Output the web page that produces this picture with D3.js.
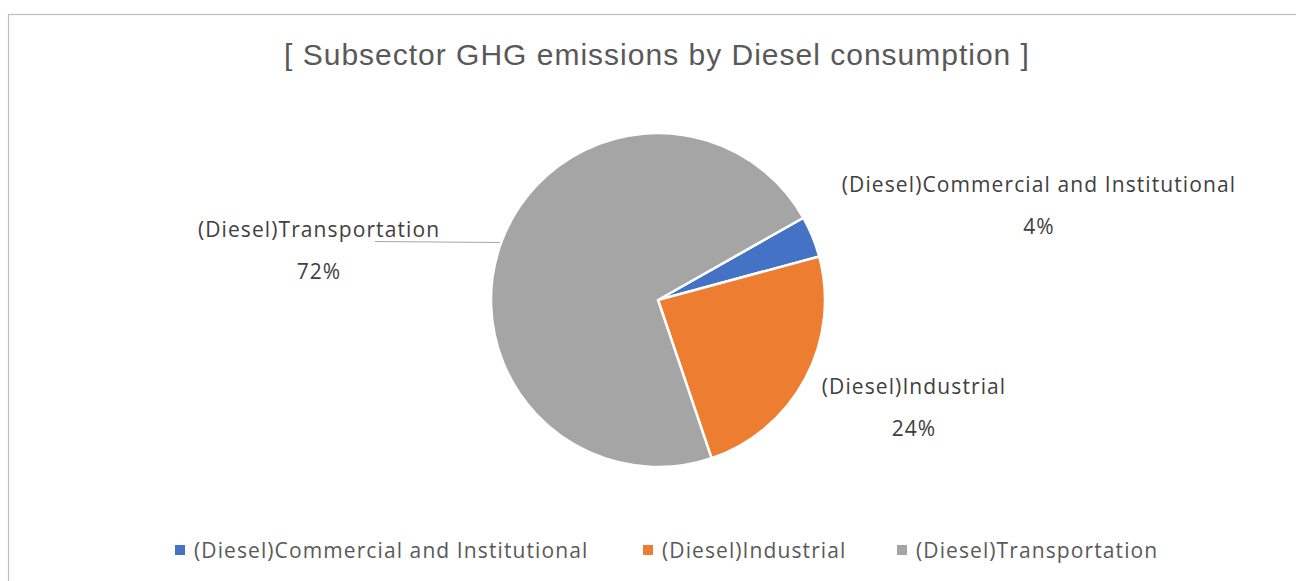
<!DOCTYPE html>
<html>
<head>
<meta charset="utf-8">
<script src="https://cdn.jsdelivr.net/npm/d3@7"></script>
<style>
  html, body { margin: 0; padding: 0; background: #fff; }
  svg { display: block; }
</style>
</head>
<body>
<svg id="chart" width="1296" height="581"></svg>
<script>
const categories = ["(Diesel)Commercial and Institutional", "(Diesel)Industrial", "(Diesel)Transportation"];
const values = [4.0, 24.0, 72.0];
const colors = ["#4472c4", "#ed7d31", "#a5a5a5"];
const title = "[ Subsector GHG emissions by Diesel consumption ]";

const svg = d3.select("#chart");
const W = 1296, H = 581;
const labelFont = "'Open Sans', 'Noto Sans', sans-serif";
const labelSize = 21;
const labelSpacing = 1.1;

svg.append("rect")
  .attr("x", 8.5).attr("y", 14.5)
  .attr("width", W).attr("height", H)
  .attr("fill", "#fff").attr("stroke", "#c0c0c0").attr("stroke-width", 1.2);

svg.append("text")
  .attr("x", 657).attr("y", 65)
  .attr("text-anchor", "middle")
  .attr("font-family", "'Liberation Sans', Arial, sans-serif")
  .attr("font-size", 30)
  .attr("letter-spacing", 1)
  .attr("fill", "#595959")
  .text(title);

const cx = 658, cy = 300, r = 167;
const total = d3.sum(values);
const start = 60.5 * Math.PI / 180;
const pie = d3.pie().sort(null).startAngle(start).endAngle(start + 2 * Math.PI);
const arcs = pie(values);
const arc = d3.arc().innerRadius(0).outerRadius(r);

const g = svg.append("g").attr("transform", `translate(${cx},${cy})`);
g.selectAll("path").data(arcs).join("path")
  .attr("d", arc)
  .attr("fill", (d, i) => colors[i])
  .attr("stroke", "#fff")
  .attr("stroke-width", 2.5)
  .attr("stroke-linejoin", "miter");

const pct = d3.format(".0%");
const labelPos = [
  { x: 1039, y: 192 },
  { x: 914, y: 394 },
  { x: 319, y: 237 }
];

svg.append("line")
  .attr("x1", 375).attr("y1", 241.5)
  .attr("x2", 500).attr("y2", 242.5)
  .attr("stroke", "#a6a6a6").attr("stroke-width", 1.2);

const lab = svg.append("g");
arcs.forEach((d, i) => {
  const p = labelPos[i];
  const t = lab.append("text")
    .attr("text-anchor", "middle")
    .attr("font-family", labelFont)
    .attr("font-size", labelSize)
    .attr("letter-spacing", labelSpacing)
    .attr("fill", "#404040");
  t.append("tspan").attr("x", p.x).attr("y", p.y).text(categories[i]);
  t.append("tspan").attr("x", p.x).attr("y", p.y + 42).text(pct(values[i] / total));
});

const legendX = [175, 643, 897];
const lg = svg.append("g");
categories.forEach((c, i) => {
  lg.append("rect")
    .attr("x", legendX[i]).attr("y", 545)
    .attr("width", 10).attr("height", 10)
    .attr("fill", colors[i]);
  lg.append("text")
    .attr("x", legendX[i] + 19).attr("y", 558)
    .attr("font-family", labelFont)
    .attr("font-size", labelSize)
    .attr("letter-spacing", labelSpacing)
    .attr("fill", "#595959")
    .text(c);
});
</script>
</body>
</html>
